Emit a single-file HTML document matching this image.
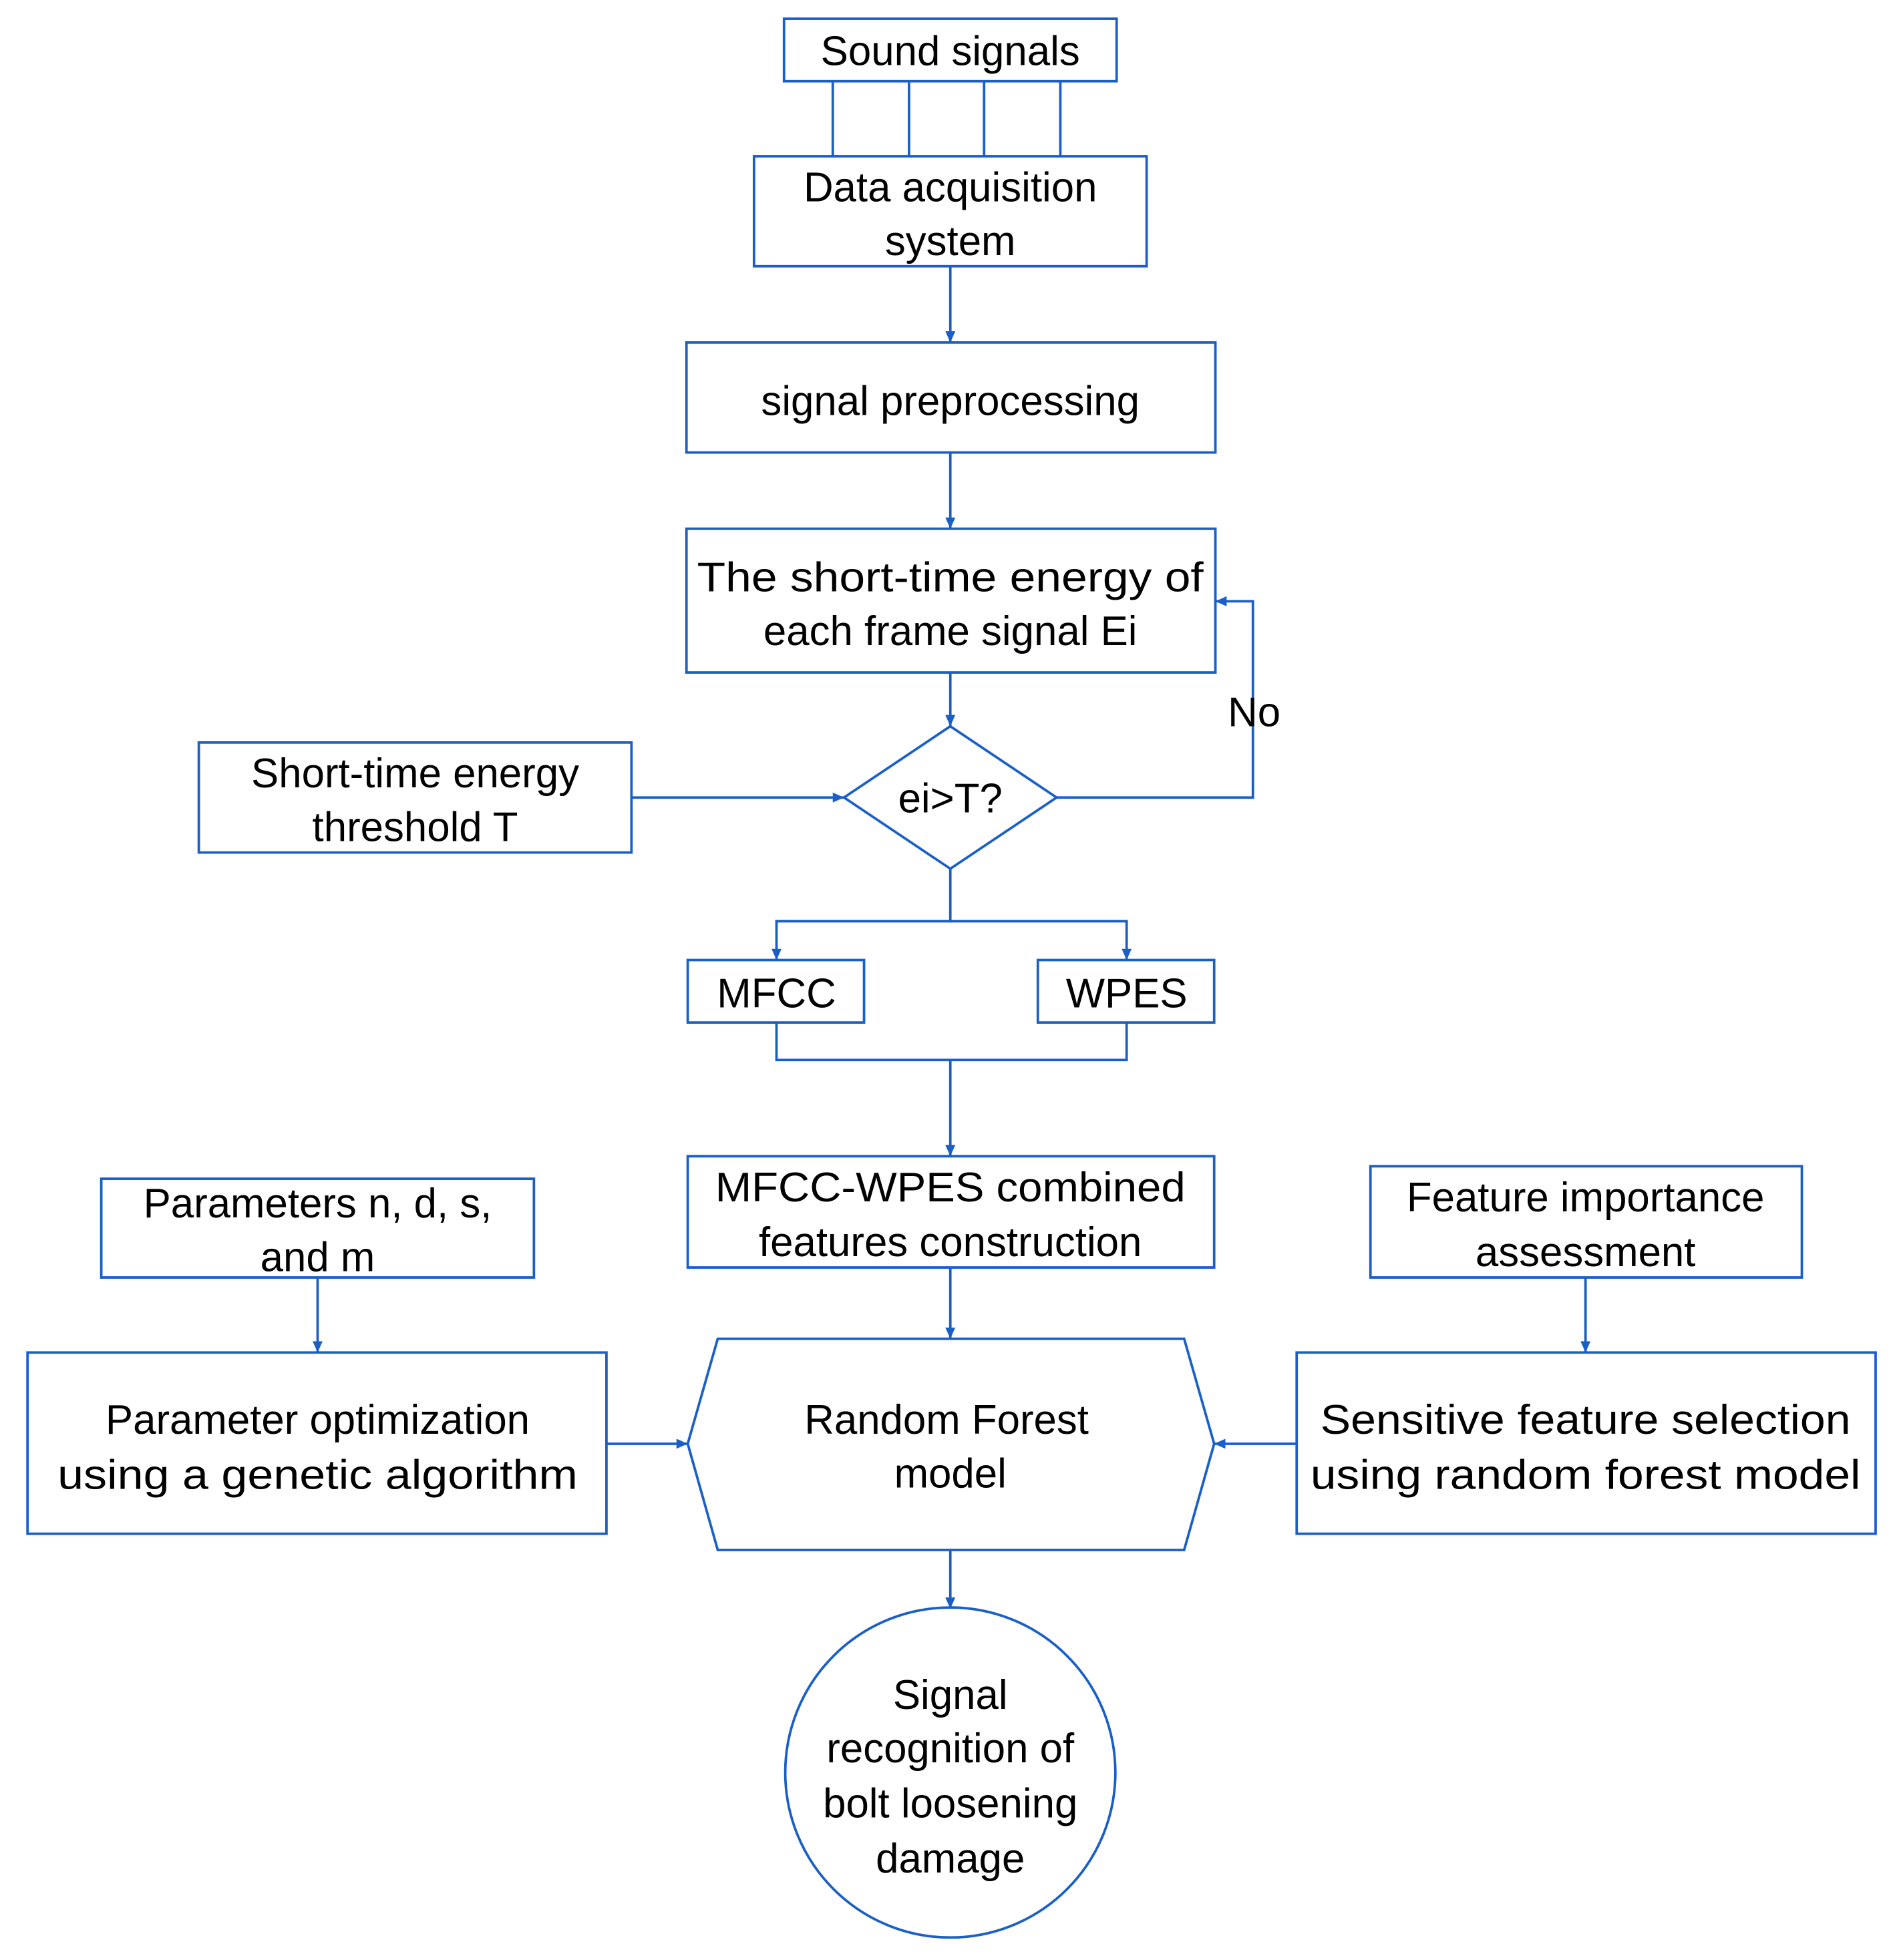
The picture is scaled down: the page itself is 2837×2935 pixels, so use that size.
<!DOCTYPE html>
<html><head><meta charset="utf-8"><style>html,body{margin:0;padding:0;background:#fff}svg{display:block}</style></head><body>
<svg width="2837" height="2935" viewBox="0 0 1515.5 1568" preserveAspectRatio="none" xmlns="http://www.w3.org/2000/svg">
<defs><marker id="a" markerWidth="10" markerHeight="10" refX="9" refY="5" orient="auto" markerUnits="userSpaceOnUse"><path d="M0,1 L9,5 L0,9 z" fill="#1a5fc8"/></marker></defs>
<g fill="none" stroke="#1a5fc8" stroke-width="2">
<rect x="627" y="15" width="266" height="50"/>
<path d="M666,65V125M727,65V125M787,65V125M848,65V125"/>
<rect x="603" y="125" width="314" height="88"/>
<rect x="549" y="274" width="423" height="88"/>
<rect x="549" y="423" width="423" height="115"/>
<path d="M760,581 L845,638 L760,695 L675,638 Z"/>
<rect x="159" y="594" width="346" height="88"/>
<rect x="550" y="768" width="141" height="50"/>
<rect x="830" y="768" width="141" height="50"/>
<rect x="550" y="925" width="421" height="89"/>
<rect x="81" y="943" width="346" height="79"/>
<rect x="22" y="1082" width="463" height="145"/>
<path d="M574,1071 L947,1071 L971,1155 L947,1240 L574,1240 L550,1155 Z"/>
<rect x="1096" y="933" width="345" height="89"/>
<rect x="1037" y="1082" width="463" height="145"/>
<circle cx="760" cy="1418" r="132"/>
<g marker-end="url(#a)">
<path d="M760,213V274"/><path d="M760,362V423"/><path d="M760,538V581"/>
<path d="M845,638H1002V481H972"/>
<path d="M505,638H675"/>
<path d="M760,695V737H621V768"/><path d="M760,737H901V768"/>
<path d="M621,818V848H901V818M760,848V925"/>
<path d="M760,1014V1071"/><path d="M254,1022V1082"/><path d="M485,1155H550"/>
<path d="M1268,1022V1082"/><path d="M1037,1155H971"/><path d="M760,1240V1287"/>
</g></g>
<g font-family="'Liberation Sans', 'DejaVu Sans', sans-serif" font-size="33" fill="#000" text-anchor="middle">
<text x="760" y="52">Sound signals</text>
<text x="760" y="161">Data acquisition</text><text x="760" y="204">system</text>
<text x="760" y="332">signal preprocessing</text>
<text x="760" y="473" textLength="405" lengthAdjust="spacingAndGlyphs">The short-time energy of</text>
<text x="760" y="516">each frame signal Ei</text>
<text x="760" y="650">ei&gt;T?</text>
<text x="1003" y="581">No</text>
<text x="332" y="630">Short-time energy</text><text x="332" y="673">threshold T</text>
<text x="621" y="806">MFCC</text><text x="901" y="806">WPES</text>
<text x="760" y="961" textLength="376" lengthAdjust="spacingAndGlyphs">MFCC-WPES combined</text>
<text x="760" y="1005">features construction</text>
<text x="254" y="974">Parameters n, d, s,</text><text x="254" y="1017">and m</text>
<text x="254" y="1147">Parameter optimization</text>
<text x="254" y="1191" textLength="416" lengthAdjust="spacingAndGlyphs">using a genetic algorithm</text>
<text x="757" y="1147">Random Forest</text><text x="760" y="1190">model</text>
<text x="1268" y="969">Feature importance</text><text x="1268" y="1013">assessment</text>
<text x="1268" y="1147" textLength="424" lengthAdjust="spacingAndGlyphs">Sensitive feature selection</text>
<text x="1268" y="1191" textLength="440" lengthAdjust="spacingAndGlyphs">using random forest model</text>
<text x="760" y="1367">Signal</text><text x="760" y="1410">recognition of</text>
<text x="760" y="1454">bolt loosening</text><text x="760" y="1498">damage</text>
</g>
</svg>
</body></html>
